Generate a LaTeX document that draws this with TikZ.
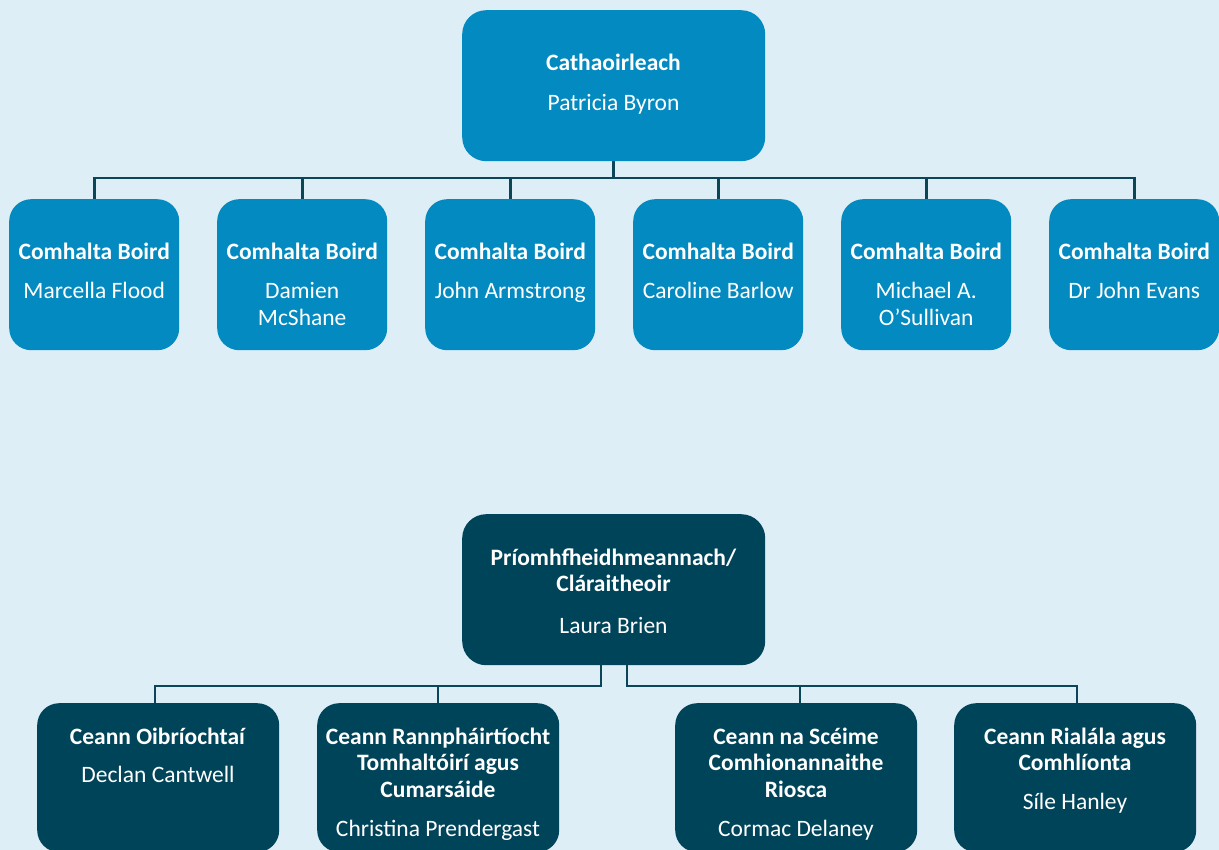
\documentclass[tikz,border=0pt]{standalone}
\usepackage{fontspec}
\setmainfont{Carlito}
\definecolor{bgc}{HTML}{DEEEF7}
\definecolor{topc}{HTML}{038AC0}
\definecolor{darkc}{HTML}{00445A}
\definecolor{linec}{HTML}{0B4658}
\newcommand{\ts}{\rule{0pt}{20pt}}
\begin{document}
\begin{tikzpicture}[x=1pt,y=-1pt,
  boxbase/.style={rectangle,inner sep=0pt,anchor=north west},
  topbox/.style={boxbase,fill=topc,rounded corners=24pt},
  memberbox/.style={boxbase,fill=topc,rounded corners=22pt,minimum width=170pt,minimum height=151pt},
  ceobox/.style={boxbase,fill=darkc,rounded corners=24pt},
  headbox/.style={boxbase,fill=darkc,rounded corners=22pt,minimum width=242pt,minimum height=149pt},
  txt/.style={anchor=north,inner sep=0pt,align=center,text=white,font=\fontsize{23.5}{26.7}\selectfont},
  conn/.style={draw=linec,line width=2.6pt}
]
\useasboundingbox (0,0) rectangle (1219,850);
\clip (0,0) rectangle (1219,850);
\fill[bgc] (0,0) rectangle (1219,850);

% ---------- Board ----------
\node[topbox,minimum width=303pt,minimum height=151pt] (chair) at (462,10) {};
\node[txt] (chairt) at (613.5,50) {\ts\textbf{Cathaoirleach}\\[14pt]Patricia Byron};

\foreach \i/\x/\nm in {1/9/{Marcella Flood},2/217/{Damien\\McShane},3/425/{John Armstrong},4/633/{Caroline Barlow},5/841/{Michael A.\\O’Sullivan},6/1049/{Dr John Evans}}{
  \node[memberbox] (m\i) at (\x,199) {};
  \node[txt] (m\i t) at (m\i.north |- 0,239.5) {\ts\textbf{Comhalta Boird}\\[12.5pt]\nm};
}

\coordinate (busA) at (chair.south |- 0,178);
\draw[conn] (chair.south) -- (busA);
\draw[conn] (m1.north) |- (busA);
\draw[conn] (m6.north) |- (busA);
\foreach \i in {2,3,4,5}{
  \draw[conn] (m\i.north) -- (m\i.north |- busA);
}

% ---------- Executive ----------
\node[ceobox,minimum width=303pt,minimum height=151pt] (ceo) at (462,514) {};
\node[txt] (ceot) at (613.5,545) {\ts\textbf{Príomhfheidhmeannach/}\\\textbf{Cláraitheoir}\\[15pt]Laura Brien};

\node[headbox] (h1) at (37,703) {};
\node[headbox] (h2) at (317,703) {};
\node[headbox] (h3) at (675,703) {};
\node[headbox] (h4) at (954,703) {};

\node[txt] (h1t) at (158,724) {\ts\textbf{Ceann Oibríochtaí}\\[12pt]Declan Cantwell};
\node[txt] (h2t) at (438,724) {\ts\textbf{Ceann Rannpháirtíocht}\\\textbf{Tomhaltóirí agus}\\\textbf{Cumarsáide}\\[12pt]Christina Prendergast};
\node[txt] (h3t) at (796,724) {\ts\textbf{Ceann na Scéime}\\\textbf{Comhionannaithe}\\\textbf{Riosca}\\[12pt]Cormac Delaney};
\node[txt] (h4t) at (1075,724) {\ts\textbf{Ceann Rialála agus}\\\textbf{Comhlíonta}\\[12pt]Síle Hanley};

\coordinate (ceoL) at (601,665);
\coordinate (ceoR) at (627,665);
\coordinate (busL) at (601,686);
\coordinate (busR) at (627,686);
\coordinate (d1) at (155,703);
\coordinate (d2) at (438,703);
\coordinate (d3) at (800,703);
\coordinate (d4) at (1077,703);
\draw[conn] (ceoL) -- (busL) -| (d1);
\draw[conn] (d2) -- (d2 |- busL);
\draw[conn] (ceoR) -- (busR) -| (d4);
\draw[conn] (d3) -- (d3 |- busR);
\end{tikzpicture}
\end{document}
